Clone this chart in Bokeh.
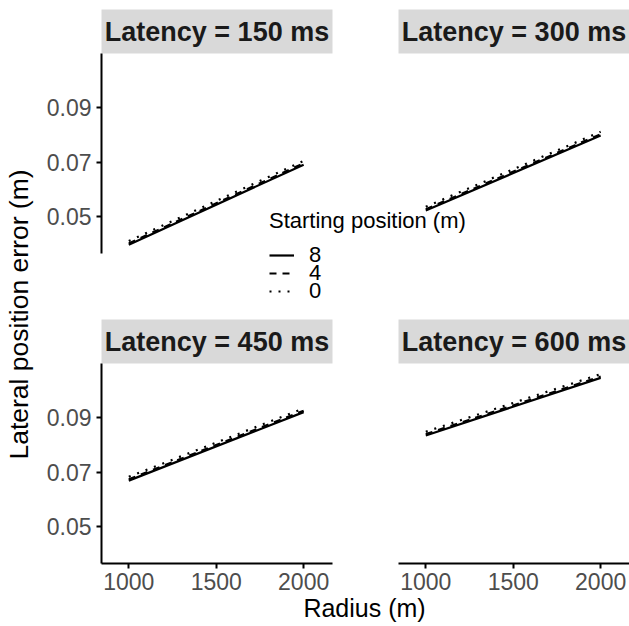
import math
from bokeh.plotting import figure
from bokeh.models import (Range1d, LinearAxis, FixedTicker, Legend, LegendItem,
                          Label, ColumnDataSource)
from bokeh.core.properties import value
from bokeh.embed import file_html
from bokeh.resources import INLINE

# ---------------- data ----------------
radius = [1000, 2000]
latencies = [150, 300, 450, 600]
start_positions = ["8", "4", "0"]
err_s8 = [[0.0396, 0.0691], [0.0522, 0.0798], [0.0669, 0.0921], [0.0835, 0.1047]]
err_s4 = [[0.0401, 0.0696], [0.0527, 0.0803], [0.0674, 0.0926], [0.0840, 0.1052]]
err_s0 = [[0.0410, 0.0705], [0.0536, 0.0812], [0.0683, 0.0935], [0.0849, 0.1061]]
x_ticks = [1000, 1500, 2000]
y_ticks = [0.05, 0.07, 0.09]

# ---------------- layout ----------------
W, H = 629, 626
FONT = "Liberation Sans"
x_lim = (844, 2165)
y_lim = (0.0364, 0.110)
panel_x = [(101, 332), (398, 629)]
panel_y = [(53, 253), (363, 563)]
STRIP_H = 44

p = figure(width=W, height=H, output_backend="svg", toolbar_location=None,
           x_axis_location=None, y_axis_location=None, title=None,
           x_range=Range1d(0, W), y_range=Range1d(H, 0), min_border=0)
p.outline_line_color = None
p.background_fill_color = "white"
p.border_fill_color = "white"
p.grid.visible = False


def xr_for(px0, px1):
    s = (x_lim[1] - x_lim[0]) / (px1 - px0)
    return Range1d(x_lim[0] - px0 * s, x_lim[1] + (W - px1) * s)


def yr_for(py0, py1):
    s = (y_lim[1] - y_lim[0]) / (py1 - py0)
    return Range1d(y_lim[0] - (H - py1) * s, y_lim[1] + py0 * s), s


styles = {"8": dict(line_dash="solid"), "4": dict(line_dash="7 6"), "0": dict(line_dash="2 7")}
series = {"8": err_s8, "4": err_s4, "0": err_s0}

legend_renderers = {}
for i, lat in enumerate(latencies):
    row, col = divmod(i, 2)
    xn, yn = f"x{i}", f"y{i}"
    p.extra_x_ranges[xn] = xr_for(*panel_x[col])
    yr, ys = yr_for(*panel_y[row])
    p.extra_y_ranges[yn] = yr

    # facet strip
    p.quad(left=[x_lim[0]], right=[x_lim[1]], bottom=[y_lim[1]],
           top=[y_lim[1] + STRIP_H * ys], fill_color="#D9D9D9", line_color=None,
           x_range_name=xn, y_range_name=yn)
    p.text(x=[(x_lim[0] + x_lim[1]) / 2], y=[y_lim[1] + STRIP_H * ys / 2],
           text=[f"Latency = {lat} ms"], text_align="center", text_baseline="middle",
           text_font=value(FONT), text_font_size="27px", text_font_style="bold",
           text_color="#1A1A1A", x_range_name=xn, y_range_name=yn)

    for sp in start_positions:
        src = ColumnDataSource(dict(x=radius, y=series[sp][i]))
        r = p.line("x", "y", source=src, line_color="black", line_width=2.2,
                   x_range_name=xn, y_range_name=yn, **styles[sp])
        if i == 0:
            legend_renderers[sp] = r

    common = dict(axis_line_color="black", axis_line_width=2,
                  major_tick_line_color="black", major_tick_line_width=2,
                  major_tick_out=5, major_tick_in=0, minor_tick_out=0, minor_tick_in=0,
                  major_label_text_font=FONT, major_label_text_font_size="23px",
                  major_label_text_color="#4D4D4D")
    if col == 0:
        ya = LinearAxis(x_range_name=xn, y_range_name=yn, fixed_location=x_lim[0],
                        bounds=y_lim, ticker=FixedTicker(ticks=y_ticks),
                        major_label_standoff=5, **common)
        p.add_layout(ya, "left")
    if row == 1:
        xa = LinearAxis(x_range_name=xn, y_range_name=yn, fixed_location=y_lim[0],
                        bounds=x_lim, ticker=FixedTicker(ticks=x_ticks),
                        major_label_standoff=4, **common)
        p.add_layout(xa, "below")

# legend: one block per key so that the keys sit as closely as in the reference
leg_common = dict(padding=0, margin=0, spacing=0, title_standoff=8,
                  glyph_width=25, glyph_height=18, label_height=18, label_standoff=15,
                  label_text_font=FONT, label_text_font_size="22px", label_text_color="black",
                  title_text_font=FONT, title_text_font_size="22px",
                  title_text_font_style="normal", title_text_color="black",
                  border_line_color=None, background_fill_alpha=0)
leg_bottoms = {"8": 268, "4": 286, "0": 304}
for k, sp in enumerate(start_positions):
    lg = Legend(items=[LegendItem(label=sp, renderers=[legend_renderers[sp]])],
                title="Starting position (m)" if k == 0 else None,
                location=(269, H - leg_bottoms[sp]), **leg_common)
    p.add_layout(lg)

p.add_layout(Label(x=364, y=607, text="Radius (m)", text_align="center",
                   text_baseline="middle", text_font=FONT, text_font_size="25px",
                   text_color="black"))
p.add_layout(Label(x=18, y=314, text="Lateral position error (m)", angle=math.pi / 2,
                   text_align="center", text_baseline="middle", text_font=FONT,
                   text_font_size="26.5px", text_color="black"))

open("out.html", "w").write(file_html(p, INLINE))
